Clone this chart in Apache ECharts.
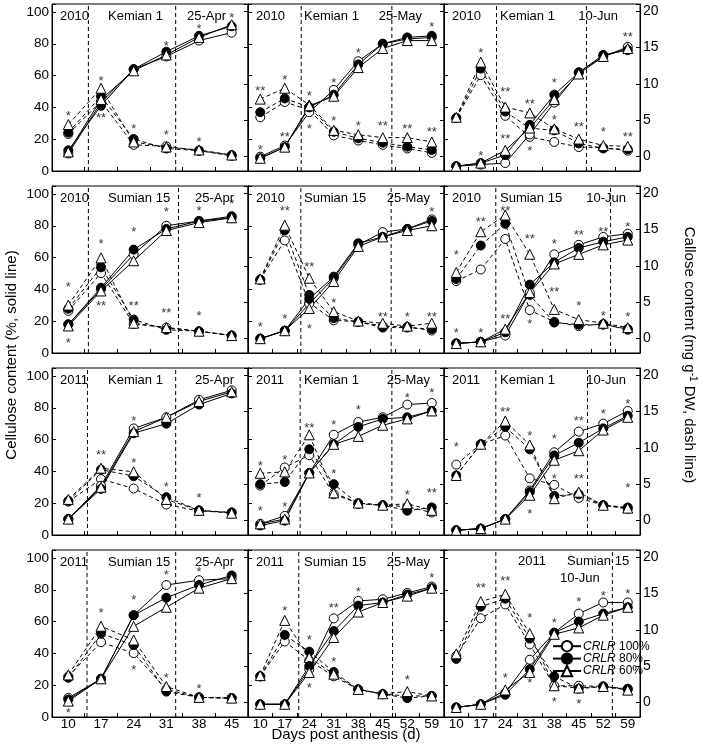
<!DOCTYPE html>
<html><head><meta charset="utf-8">
<script src="https://cdn.jsdelivr.net/npm/echarts@6/dist/echarts.min.js"></script>
<style>html,body{margin:0;padding:0;background:#fff}#c{width:702px;height:746px}</style>
</head><body><div id="c"></div>
<script>
// ---------- categories / labels ----------
const daysShort = [10, 17, 24, 31, 38, 45];
const daysLong = [10, 17, 24, 31, 38, 45, 52, 59];
const levels = ['CRLR 100%', 'CRLR 80%', 'CRLR 60%'];
const years = ['2010','2010','2010','2010','2010','2010','2011','2011','2011','2011','2011','2011'];
const cultivars = ['Kemian 1','Kemian 1','Kemian 1','Sumian 15','Sumian 15','Sumian 15','Kemian 1','Kemian 1','Kemian 1','Sumian 15','Sumian 15','Sumian 15'];
const dates = ['25-Apr','25-May','10-Jun','25-Apr','25-May','10-Jun','25-Apr','25-May','10-Jun','25-Apr','25-May','10-Jun'];
const leftTicks = [0, 20, 40, 60, 80, 100];
const rightTicks = [0, 5, 10, 15, 20];

// ---------- cellulose (%, solid) rows: 100%, 80%, 60% ----------
const cel1 = [[11,43,64,72,82,87],[13,41,64,75,85,91],[12,45,63,73,84,92]];
const cel2 = [[9,16,37,51,69,80,83,84],[8,15,40,48,67,80,84,85],[8,15,41,47,65,77,82,82]];
const cel3 = [[3,4,5,23,43,62,72,78],[3,5,10,29,48,62,73,76],[3,5,13,27,45,61,72,77]];
const cel4 = [[18,40,62,80,83,85],[18,41,65,78,83,86],[17,39,58,77,82,85]];
const cel5 = [[9,14,31,47,68,76,78,84],[9,14,34,48,69,73,78,83],[9,14,28,45,67,73,77,80]];
const cel6 = [[6,7,11,38,62,68,73,75],[6,7,13,43,57,66,70,73],[6,7,15,38,56,62,68,71]];
const cel7 = [[10,31,67,74,85,91],[10,29,64,70,82,89],[10,30,65,74,84,90]];
const cel8 = [[7,12,39,63,71,74,82,83],[6,9,39,57,68,73,74,78],[7,10,39,57,62,69,73,78]];
const cel9 = [[3,4,10,28,52,65,70,78],[3,4,10,27,50,58,67,75],[3,4,10,25,47,53,66,74]];
const cel10 = [[12,24,64,83,86,87],[11,24,64,75,83,89],[10,24,57,69,81,87]];
const cel11 = [[8,8,30,62,73,74,78,82],[8,8,32,54,70,72,77,81],[8,8,28,50,66,72,76,81]];
const cel12 = [[6,8,15,36,53,65,72,72],[6,8,14,30,53,60,65,69],[6,8,17,28,52,56,64,69]];

// ---------- callose (mg g-1 DW, dashed) rows: 100%, 80%, 60% ----------
const cal1 = [[3.1,7.6,1.6,1.4,0.8,0.2],[3.3,8.3,2.4,1.1,0.8,0.1],[4.4,9.4,2.0,1.3,0.9,0.2]];
const cal2 = [[5.4,7.5,6.4,2.9,2.2,1.6,1.1,0.5],[6.1,8.0,6.8,3.4,2.5,1.9,1.35,0.9],[7.9,9.4,7.1,3.6,3.0,2.6,2.6,2.0]];
const cal3 = [[5.3,11.2,5.6,2.7,2.0,1.3,1.2,0.8],[5.3,12.1,6.2,3.9,3.6,1.8,1.1,1.0],[5.4,13.0,6.8,6.0,3.8,2.4,1.5,1.4]];
const cal4 = [[3.8,9.0,2.0,1.5,1.0,0.4],[4.1,9.8,2.6,1.2,1.0,0.4],[4.6,11.1,2.1,1.5,1.0,0.4]];
const cal5 = [[8.1,13.5,4.9,2.5,2.3,1.7,1.6,1.1],[8.1,14.9,6.0,2.8,2.3,1.5,1.5,1.3],[8.2,15.6,8.3,3.7,2.4,2.1,1.7,2.1]];
const cal6 = [[7.9,9.5,13.7,3.9,2.3,1.7,2.0,1.2],[8.2,12.8,15.8,6.0,2.2,1.9,1.9,1.3],[9.1,14.7,17.0,11.6,4.0,2.6,2.1,1.5]];
const cal7 = [[2.6,5.7,4.4,2.2,1.3,1.1],[2.7,7.0,6.1,3.2,1.4,1.1],[2.9,7.2,6.7,2.9,1.4,1.0]];
const cal8 = [[4.8,7.3,9.0,3.6,2.4,2.1,1.9,1.1],[5.0,5.3,9.8,5.0,2.3,2.1,1.35,1.8],[6.5,6.7,11.8,3.8,2.4,2.1,2.3,1.4]];
const cal9 = [[7.7,10.5,11.7,5.8,4.9,3.1,2.1,1.6],[6.2,10.5,12.9,9.8,3.4,3.6,2.1,1.8],[6.2,10.5,13.7,10.4,3.0,3.9,2.1,1.7]];
const cal10 = [[3.6,8.3,6.8,1.8,0.7,0.6],[3.4,9.5,7.9,1.5,0.7,0.6],[3.8,10.5,8.6,2.2,0.7,0.6]];
const cal11 = [[3.6,8.4,5.8,3.6,1.8,1.15,0.9,0.9],[3.6,9.3,7.0,4.2,1.8,1.15,0.6,0.9],[3.7,11.3,6.2,3.9,1.8,1.2,1.5,0.9]];
const cal12 = [[6.4,11.6,13.5,8.0,2.3,2.3,2.2,1.8],[6.0,13.2,14.3,8.8,3.6,1.9,2.2,1.9],[6.7,13.9,14.9,9.5,2.3,2.0,2.2,1.7]];

// ---------- significance marks: [category index, height on cellulose scale, text] ----------
const stars1 = [[0,36,'*'],[1,58,'*'],[1,35,'**'],[2,28,'*'],[3,80,'*'],[3,24,'*'],[4,91,'*'],[4,20,'*'],[5,98,'*']];
const stars2 = [[0,52,'**'],[0,15,'*'],[1,59,'*'],[1,23,'**'],[2,49,'*'],[2,28,'*'],[3,57,'*'],[3,33,'*'],[4,76,'*'],[4,30,'*'],[5,30,'**'],[6,28,'**'],[7,92,'*'],[7,26,'**']];
const stars3 = [[1,76,'*'],[1,11,'*'],[2,51,'**'],[2,22,'**'],[3,44,'**'],[3,14,'*'],[4,57,'*'],[4,34,'*'],[5,29,'**'],[6,26,'*'],[7,86,'**'],[7,23,'**']];
const stars4 = [[0,43,'*'],[0,8,'*'],[1,70,'*'],[1,31,'**'],[2,78,'*'],[2,31,'**'],[3,90,'*'],[3,27,'**'],[4,91,'*'],[4,25,'*'],[5,95,'*']];
const stars5 = [[0,18,'*'],[1,91,'**'],[1,23,'*'],[2,56,'**'],[2,17,'*'],[3,33,'*'],[5,24,'**'],[6,24,'*'],[7,90,'*'],[7,24,'**']];
const stars6 = [[0,63,'*'],[0,14,'*'],[1,84,'**'],[1,14,'*'],[2,91,'**'],[2,23,'**'],[3,73,'**'],[3,20,'*'],[4,70,'*'],[4,40,'**'],[5,76,'**'],[5,31,'*'],[6,78,'**'],[6,25,'*'],[7,81,'*'],[7,24,'*']];
const stars7 = [[1,52,'**'],[2,73,'*'],[2,47,'*'],[3,32,'*'],[4,25,'*']];
const stars8 = [[0,45,'*'],[0,17,'*'],[1,49,'*'],[1,19,'*'],[2,69,'**'],[3,71,'*'],[3,40,'*'],[4,80,'*'],[6,88,'*'],[6,27,'*'],[7,91,'*'],[7,28,'**']];
const stars9 = [[0,57,'*'],[2,79,'**'],[3,64,'*'],[3,15,'*'],[4,62,'*'],[4,37,'*'],[5,73,'**'],[5,37,'**'],[6,78,'*'],[7,84,'*'],[7,31,'*']];
const stars10 = [[0,4,'*'],[1,67,'*'],[2,75,'*'],[2,31,'*'],[3,91,'*'],[3,26,'*'],[4,93,'*'],[4,19,'*']];
const stars11 = [[1,68,'*'],[2,50,'*'],[2,20,'*'],[3,70,'**'],[3,36,'*'],[4,80,'*'],[6,25,'*'],[7,89,'*']];
const stars12 = [[1,83,'**'],[2,87,'**'],[2,26,'*'],[3,64,'*'],[3,23,'*'],[4,61,'*'],[4,11,'*'],[5,74,'*'],[5,10,'*'],[6,78,'*'],[7,79,'*']];

// ---------- vertical reference lines (days post anthesis) ----------
const vlines = [[14.3,33.0],[21.7,47.6],[21.5,47.2],[14.3,33.6],[21.6,47.4],[21.3,54.1],[14.1,33.0],[21.4,47.6],[21.3,47.5],[14.0,33.0],[21.0,47.8],[21.3,54.6]];

const cels = [cel1,cel2,cel3,cel4,cel5,cel6,cel7,cel8,cel9,cel10,cel11,cel12];
const cals = [cal1,cal2,cal3,cal4,cal5,cal6,cal7,cal8,cal9,cal10,cal11,cal12];
const starsAll = [stars1,stars2,stars3,stars4,stars5,stars6,stars7,stars8,stars9,stars10,stars11,stars12];

const FONT = '"Liberation Sans", Arial, sans-serif';
const grid = [], xAxis = [], yAxis = [], series = [], graphic = [];
const sym = ['circle', 'circle', 'triangle'];
const fill = ['#fff', '#000', '#fff'];
const symSize = [9, 9, 10];

for (let i = 0; i < 12; i++) {
  const r = Math.floor(i / 3), c = i % 3;
  const L = 52 + 196 * c, T = 4 + 182 * r, W = 196, H = 167;
  const days = c === 0 ? daysShort : daysLong;
  const n = days.length;
  grid.push({left: L, top: T, width: W, height: H, show: true, borderColor: '#000', borderWidth: 1, backgroundColor: 'transparent', containLabel: false, outerBoundsMode: 'none'});
  xAxis.push({type: 'category', gridIndex: i, data: days.map(String), boundaryGap: true,
    axisLine: {show: true, lineStyle: {color: '#000', width: 1}},
    axisTick: {show: true, inside: true, length: 4, lineStyle: {color: '#000'}},
    axisLabel: {show: r === 3, color: '#000', fontSize: 13.5, fontFamily: FONT, margin: 0},
    splitLine: {show: false}});
  xAxis.push({type: 'value', gridIndex: i, min: days[0] - 3.5, max: days[n - 1] + 3.5, show: false});
  yAxis.push({type: 'value', gridIndex: i, position: 'left', min: 0, max: 105, interval: 20,
    axisLine: {show: true, lineStyle: {color: '#000', width: 1}},
    axisTick: {show: true, inside: true, length: 4, lineStyle: {color: '#000'}},
    axisLabel: {show: c === 0, color: '#000', fontSize: 13.5, fontFamily: FONT, margin: 3,
      formatter: v => leftTicks.indexOf(v) >= 0 ? String(v) : ''},
    splitLine: {show: false}});
  yAxis.push({type: 'value', gridIndex: i, position: 'right', min: -2, max: 21, splitNumber: 5,
    axisLine: {show: true, lineStyle: {color: '#000', width: 1}},
    axisTick: {show: true, inside: true, length: 4, lineStyle: {color: '#000'}},
    axisLabel: {show: c === 2, color: '#000', fontSize: 14, fontFamily: FONT, margin: 3,
      formatter: v => rightTicks.indexOf(v) >= 0 ? String(v) : ''},
    splitLine: {show: false}});

  vlines[i].forEach(d => {
    series.push({type: 'line', xAxisIndex: 2 * i + 1, yAxisIndex: 2 * i, data: [[d, 0], [d, 105]],
      symbol: 'none', silent: true, lineStyle: {color: '#000', width: 1, type: [4, 3]}, z: 1});
  });
  for (let k = 0; k < 3; k++) {
    series.push({type: 'line', name: levels[k] + ' callose', xAxisIndex: 2 * i, yAxisIndex: 2 * i + 1,
      data: cals[i][k], symbol: sym[k], symbolSize: symSize[k], showAllSymbol: true, silent: true,
      itemStyle: {color: fill[k], borderColor: '#000', borderWidth: 1},
      lineStyle: {color: '#000', width: 1, type: [4, 3]}, z: 2});
  }
  for (let k = 0; k < 3; k++) {
    series.push({type: 'line', name: levels[k], xAxisIndex: 2 * i, yAxisIndex: 2 * i,
      data: cels[i][k], symbol: sym[k], symbolSize: symSize[k], showAllSymbol: true, silent: true,
      itemStyle: {color: fill[k], borderColor: '#000', borderWidth: 1},
      lineStyle: {color: '#000', width: 1, type: 'solid'}, z: 3});
  }
  series.push({type: 'scatter', xAxisIndex: 2 * i, yAxisIndex: 2 * i, silent: true,
    data: starsAll[i].map(s => ({value: [s[0], s[1]], name: s[2]})), symbol: 'circle', symbolSize: 2,
    itemStyle: {color: 'rgba(0,0,0,0)', borderWidth: 0},
    label: {show: true, position: 'inside', formatter: p => p.name, color: '#000',
      fontSize: 13, fontFamily: FONT, offset: [0, 3]}, z: 5});

  const tstyle = (text, align) => ({text, fill: '#000', font: '13px ' + FONT, align, verticalAlign: 'middle'});
  if (i === 11) {
    graphic.push({type: 'text', x: L + 74, y: T + 11, style: tstyle(years[i], 'left'), silent: true});
    graphic.push({type: 'text', x: L + 123, y: T + 11, style: tstyle(cultivars[i], 'left'), silent: true});
    graphic.push({type: 'text', x: L + 116, y: T + 28, style: tstyle(dates[i], 'left'), silent: true});
  } else {
    graphic.push({type: 'text', x: L + 8, y: T + 12, style: tstyle(years[i], 'left'), silent: true});
    graphic.push({type: 'text', x: L + 56, y: T + 12, style: tstyle(cultivars[i], 'left'), silent: true});
    graphic.push({type: 'text', x: L + W - (r === 0 ? 22 : 14), y: T + 12, style: tstyle(dates[i], 'right'), silent: true});
  }
}

graphic.push({type: 'text', x: 12, y: 355, rotation: Math.PI / 2, silent: true,
  style: {text: 'Cellulose content (%, solid line)', fill: '#000', font: '15px ' + FONT, align: 'center', verticalAlign: 'middle'}});
graphic.push({type: 'text', x: 689, y: 355, rotation: -Math.PI / 2, silent: true,
  style: {text: 'Callose content (mg g{sup|-1} DW, dash line)', fill: '#000', font: '15px ' + FONT, align: 'center', verticalAlign: 'middle',
    rich: {sup: {fontSize: 10, fontFamily: FONT, fill: '#000', padding: [0, 0, 8, 0]}}}});
graphic.push({type: 'text', x: 346, y: 735, silent: true,
  style: {text: 'Days post anthesis (d)', fill: '#000', font: '15px ' + FONT, align: 'center', verticalAlign: 'middle'}});

const chart = echarts.init(document.getElementById('c'), null, {renderer: 'canvas'});
chart.setOption({
  animation: false,
  backgroundColor: '#fff',
  grid, xAxis, yAxis, series, graphic,
  legend: {data: levels, orient: 'vertical', left: 552, top: 640, itemWidth: 28, itemHeight: 13, itemGap: 0,
    padding: 0, selectedMode: false,
    formatter: nm => '{i|CRLR}' + nm.slice(4),
    textStyle: {fontSize: 12, fontFamily: FONT, color: '#000', padding: [0, 0, 0, -3],
      rich: {i: {fontStyle: 'italic', fontSize: 12, fontFamily: FONT, color: '#000'}}}}
});
</script>
</body></html>
